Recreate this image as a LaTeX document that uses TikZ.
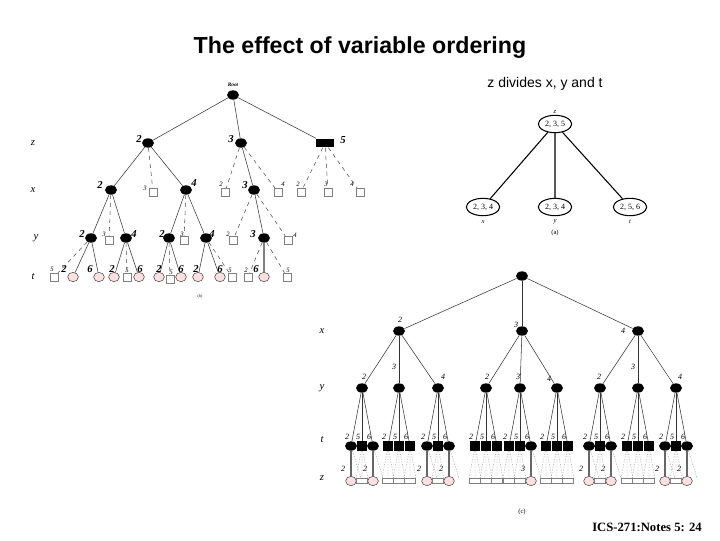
\documentclass[tikz,border=0pt]{standalone}
\usepackage{fontspec}
\setmainfont{Liberation Serif}
\newfontfamily\arialf{Liberation Sans}
\usetikzlibrary{shapes.geometric}
\begin{document}
\begin{tikzpicture}[x=0.75pt,y=-0.75pt,
  bn/.style={ellipse,fill=black,minimum width=9pt,minimum height=7pt,inner sep=0pt},
  bsq/.style={rectangle,fill=black,minimum size=7pt,inner sep=0pt},
  sq/.style={rectangle,draw=gray,fill=white,minimum size=6pt,inner sep=0pt},
  pc/.style={ellipse,draw=black!70,fill=red!12,minimum width=8pt,minimum height=7pt,inner sep=0pt},
  el/.style={ellipse,draw,thick,minimum width=25pt,minimum height=13pt,inner sep=1pt,font=\fontsize{6}{7}\selectfont},
  lb/.style={font=\fontsize{8}{9}\selectfont\itshape\bfseries},
  sl/.style={font=\fontsize{5}{6}\selectfont\itshape},
  cl/.style={font=\fontsize{6}{7}\selectfont\itshape},
  vl/.style={font=\fontsize{8}{9}\selectfont\itshape},
  e/.style={black!80},
  d/.style={black!70,dashed},
  dz/.style={gray,densely dashed,dash pattern=on 1pt off 1pt,very thin}]
\useasboundingbox (0,0) rectangle (720,540);
\node[font=\arialf\bfseries\fontsize{14.5}{16}\selectfont,scale=1.2] (title) at (360,48) {The effect of variable ordering};
\node[font=\arialf\fontsize{10.5}{12}\selectfont] (sub) at (545,84) {z divides x, y and t};
% ---------- tree (b)
\node[font=\fontsize{4}{5}\selectfont\itshape\bfseries] (rl) at (233,85) {Root};
\node[bn] (r) at (233,95) {};
\node[bn] (z2) at (148,143) {}; \node[lb] at (139,139) {2};
\node[bn] (z3) at (241,143) {}; \node[lb] at (231,139) {3};
\node[rectangle,fill=black,minimum width=13pt,minimum height=6pt] (z5) at (325,143) {}; \node[lb] at (343,140) {5};
\draw[e] (r)--(z2) (r)--(z3) (r)--(z5);
\node[bn] (x2) at (111,190) {}; \node[lb] at (100,185) {2};
\node[sq] (x3a) at (153,192) {}; \node[sl] at (145,188) {3};
\node[bn] (x4) at (186,190) {}; \node[lb] at (194,183) {4};
\draw[e] (z2)--(x2) (z2)--(x4); \draw[d] (z2)--(x3a);
\node[sq] (x2b) at (225,192) {}; \node[sl] at (221,184) {2};
\node[bn] (x3) at (254,190) {}; \node[lb] at (245,185) {3};
\node[sq] (x4b) at (278,192) {}; \node[sl] at (283,184) {4};
\draw[e] (z3)--(x3); \draw[d] (z3)--(x2b) (z3)--(x4b);
\node[sq] (x2c) at (301,192) {}; \node[sl] at (298,184) {2};
\node[sq] (x3c) at (328,192) {}; \node[sl] at (326,184) {3};
\node[sq] (x4c) at (360,192) {}; \node[sl] at (352,184) {4};
\draw[d] (z5)--(x2c) (z5)--(x3c) (z5)--(x4c);
\node[bn] (y2a) at (91,238) {}; \node[lb] at (82,234) {2};
\node[sq] (y3a) at (109,240) {}; \node[sl] at (104,234) {3};
\node[bn] (y4a) at (126,238) {}; \node[lb] at (134,234) {4};
\draw[e] (x2)--(y2a) (x2)--(y4a); \draw[d] (x2)--(y3a);
\node[bn] (y2b) at (169,238) {}; \node[lb] at (162,234) {2};
\node[sq] (y3b) at (184,240) {}; \node[sl] at (182,234) {3};
\node[bn] (y4b) at (206,238) {}; \node[lb] at (212,234) {4};
\draw[e] (x4)--(y2b) (x4)--(y4b); \draw[d] (x4)--(y3b);
\node[sq] (y2c) at (233,240) {}; \node[sl] at (228,234) {2};
\node[bn] (y3c) at (264,238) {}; \node[lb] at (253,234) {3};
\node[sq] (y4c) at (288,240) {}; \node[sl] at (295,235) {4};
\draw[e] (x3)--(y3c); \draw[d] (x3)--(y2c) (x3)--(y4c);
% t level
\node[sq] (t1) at (54,277) {}; \node[sl] at (52,269) {5};
\node[pc] (t2) at (73,277) {}; \node[lb] at (64,269) {2};
\node[pc] (t3) at (99,277) {}; \node[lb] at (90,269) {6};
\draw[d] (y2a)--(t1); \draw[e] (y2a)--(t2) (y2a)--(t3);
\node[pc] (t4) at (114,277) {}; \node[lb] at (112,269) {2};
\node[sq] (t5) at (127,277) {}; \node[sl] at (127,270) {5};
\node[pc] (t6) at (139,277) {}; \node[lb] at (140,269) {6};
\draw[e] (y4a)--(t4) (y4a)--(t6); \draw[d] (y4a)--(t5);
\node[pc] (t7) at (159,277) {}; \node[lb] at (159,269) {2};
\node[sq] (t8) at (170,279) {}; \node[sl] at (171,272) {5};
\node[pc] (t9) at (181,277) {}; \node[lb] at (181,269) {6};
\draw[e] (y2b)--(t7) (y2b)--(t9); \draw[d] (y2b)--(t8);
\node[pc] (t10) at (198,277) {}; \node[lb] at (196,269) {2};
\node[pc] (t11) at (220,277) {}; \node[lb] at (220,269) {6};
\node[sq] (t12) at (232,277) {}; \node[sl] at (230,270) {5};
\draw[e] (y4b)--(t10) (y4b)--(t11); \draw[d] (y4b)--(t12);
\node[sq] (t13) at (248,277) {}; \node[sl] at (246,270) {2};
\node[pc] (t14) at (264,277) {}; \node[lb] at (256,269) {6};
\node[sq] (t15) at (287,277) {}; \node[sl] at (288,270) {5};
\draw[d] (y3c)--(t13) (y3c)--(t15); \draw[gray,line width=1.2pt] (y3c)--(t14);
\node[vl] (lz) at (33,143) {z}; \node[vl] (lx) at (33,190) {x};
\node[vl] (ly) at (36,238) {y}; \node[vl] (lt) at (33,277) {t};
\node[font=\fontsize{3}{4}\selectfont] (bb) at (200,297) {(b)};
% ---------- tree (a)
\node[el] (az) at (555,124) {2, 3, 5}; \node[sl] at (555,112) {z};
\node[el] (ax) at (483,207) {2, 3, 4}; \node[sl] at (483,222) {x};
\node[el] (ay) at (555,207) {2, 3, 4}; \node[sl] at (555,222) {y};
\node[el] (at) at (630,207) {2, 5, 6}; \node[sl] at (630,222) {t};
\draw[thick] (az)--(ax) (az)--(ay) (az)--(at);
\node[font=\fontsize{5}{6}\selectfont] (aa) at (555,233) {(a)};
% ---------- tree (c)
\node[bn] (cr) at (522,276) {};
\foreach \n/\xx/\l/\lx/\ly in {1/399/2/400/320, 2/522/3/516/325, 3/638/4/623/331}{
  \node[bn] (cx\n) at (\xx,331) {};
  \node[cl] at (\lx,\ly) {\l};
  \draw[e] (cr)--(cx\n);
}
\foreach \n/\xx/\p/\l/\lx/\ly in {1/362/1/2/364/377, 2/399/1/3/394/367, 3/438/1/4/443/377,
   4/486/2/2/487/377, 5/520/2/3/518/377, 6/557/2/4/549/379,
   7/600/3/2/599/377, 8/638/3/3/633/367, 9/676/3/4/680/377}{
  \node[bn] (cy\n) at (\xx,388) {};
  \node[cl] at (\lx,\ly) {\l};
  \draw[e] (cx\p)--(cy\n);
}
% t level of (c)
\foreach \n/\g/\xx/\ty in {1/1/351/bn,2/1/362/bsq,3/1/373/bn,
  4/2/388/bsq,5/2/399/bsq,6/2/410/bsq,
  7/3/427/bn,8/3/438/bsq,9/3/449/bn,
  10/4/475/bsq,11/4/486/bsq,12/4/497/bsq,
  13/5/509/bsq,14/5/520/bsq,15/5/531/bn,
  16/6/546/bsq,17/6/557/bsq,18/6/568/bsq,
  19/7/589/bn,20/7/600/bsq,21/7/611/bn,
  22/8/627/bsq,23/8/638/bsq,24/8/649/bsq,
  25/9/665/bn,26/9/676/bsq,27/9/687/bn}{
  \node[\ty] (ct\n) at (\xx,446) {};
  \draw[e] (cy\g)--(ct\n);
}
\foreach \g/\xx in {1/362,2/399,3/438,4/486,5/520,6/557,7/600,8/638,9/676}{
  \node[cl] at (\xx-15,437) {2};
  \node[cl] at (\xx-4,437) {5};
  \node[cl] at (\xx+7,437) {6};
}
% z level of (c)
\foreach \n/\xx/\l in {1/351/2,3/373/2,7/427/2,9/449/2,15/531/3,19/589/2,21/611/2,25/665/2,27/687/2}{
  \node[pc] (cz\n) at (\xx,481) {};
  \draw[black!60,thick] (ct\n)--(cz\n);
  \node[cl] at (\xx-8,469) {\l};
  \coordinate (cq\n) at (\xx+10,478);
  \draw[dz] (ct\n)--(cq\n);
}
\foreach \n/\xx in {2/362,4/388,5/399,6/410,8/438,10/475,11/486,12/497,13/509,14/520,16/546,17/557,18/568,20/600,22/627,23/638,24/649,26/676}{
  \node[rectangle,draw=gray,fill=white,minimum width=8.5pt,minimum height=4pt,inner sep=0pt] (cs\n) at (\xx,481) {};
  \draw[dz] (ct\n)--(cs\n.north west) (ct\n)--(cs\n.north) (ct\n)--(cs\n.north east);
}
\node[vl] (cxl) at (322,331) {x}; \node[vl] (cyl) at (322,388) {y};
\node[vl] (ctl) at (322,440) {t}; \node[vl] (czl) at (322,478) {z};
\node[font=\fontsize{5}{6}\selectfont] (cc) at (522,512) {(c)};
\node[font=\fontsize{9.5}{11}\selectfont\bfseries] (foot) at (647,527) {ICS-271:Notes 5: 24};
\end{tikzpicture}
\end{document}
